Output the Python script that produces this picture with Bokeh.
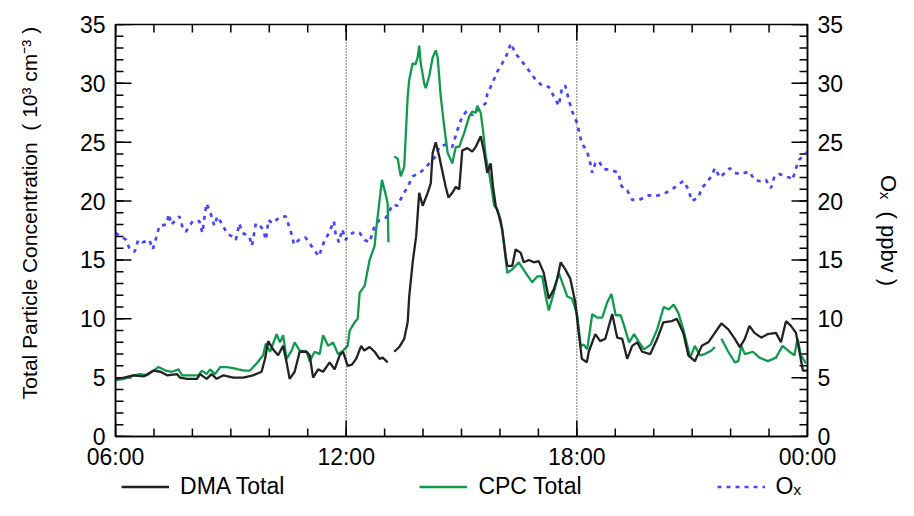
from bokeh.plotting import figure
from bokeh.layouts import column
from bokeh.models import Range1d, LinearAxis, FixedTicker, Span, Legend, LegendItem
from bokeh.embed import file_html
from bokeh.resources import INLINE

NaN = float("nan")

# ---------------- data (hours of day, 6 = 06:00, 24 = 00:00) ----------------
dma_time = [6.00, 6.22, 6.47, 6.73, 6.99, 7.17, 7.34, 7.60, 7.68, 7.86, 8.12, 8.20, 8.37, 8.50,
            8.63, 8.81, 9.06, 9.32, 9.58, 9.80, 9.89, 9.97, 10.10, 10.23, 10.36, 10.45, 10.53,
            10.66, 10.79, 10.97, 11.05, 11.14, 11.27, 11.40, 11.57, 11.70, 11.83, 11.92, 12.04,
            12.15, 12.26, 12.39, 12.47, 12.61, 12.74, 12.87, 12.95, 13.08, 13.16, 13.25, 13.38,
            13.51, 13.60, 13.64, 13.73, 13.82, 13.90, 13.99, 14.12, 14.20, 14.25, 14.33, 14.42,
            14.51, 14.59, 14.66, 14.76, 14.85, 14.94, 15.02, 15.15, 15.28, 15.37, 15.50, 15.59,
            15.67, 15.76, 15.82, 15.89, 15.97, 16.06, 16.15, 16.19, 16.32, 16.41, 16.54, 16.62,
            16.75, 16.88, 17.01, 17.14, 17.27, 17.40, 17.49, 17.58, 17.70, 17.83, 17.96, 18.04,
            18.13, 18.26, 18.31, 18.48, 18.61, 18.74, 18.92, 19.05, 19.18, 19.31, 19.44, 19.57,
            19.70, 19.91, 20.09, 20.25, 20.47, 20.60, 20.77, 20.90, 21.07, 21.25, 21.42, 21.59,
            21.76, 21.94, 22.11, 22.24, 22.37, 22.49, 22.62, 22.80, 22.97, 23.18, 23.31, 23.44,
            23.57, 23.70, 23.88, 24.00]
dma_total = [4.9, 5.0, 5.2, 5.1, 5.6, 5.5, 5.2, 5.3, 5.0, 4.9, 4.9, 5.3, 4.9, 5.3,
             4.9, 5.2, 5.0, 5.0, 5.2, 5.5, 6.6, 8.1, 7.4, 6.9, 7.7, 6.3, 4.9,
             5.5, 7.2, 7.2, 6.9, 5.0, 5.7, 5.5, 6.3, 5.7, 6.9, 7.2, 6.0,
             6.1, 6.6, 7.7, 7.3, 7.6, 7.2, 6.6, 6.7, 6.3, NaN, 7.2, 7.6,
             8.3, 9.7, 11.9, 14.8, 17.0, 20.7, 19.6, 20.7, 21.5, 24.1, 25.0, 23.8,
             22.4, 21.2, 20.3, 20.7, 21.2, 21.0, 24.3, 24.5, 24.2, 24.6, 25.5, 24.1,
             22.4, 23.2, 21.2, 19.6, 18.8, 17.6, 15.3, 14.5, 14.5, 15.9, 15.6, 14.8,
             15.0, 14.8, 14.9, 13.9, 11.7, 12.5, 13.4, 14.8, 14.2, 13.4, 11.4, 9.1,
             6.6, 6.3, 7.2, 8.7, 8.1, 8.3, 10.4, 8.4, 8.3, 6.6, 7.7, 8.0,
             7.2, 7.0, 8.3, 9.7, 9.8, 10.0, 8.8, 6.9, 6.4, 7.7, 8.0, 8.8,
             9.6, 9.1, 8.3, 7.6, 8.3, 9.4, 8.8, 8.4, 8.7, 8.8, 8.0, 9.8,
             9.4, 8.8, 5.6, 5.6]

cpc_time = [6.00, 6.22, 6.47, 6.65, 6.82, 6.99, 7.12, 7.30, 7.47, 7.64, 7.73, 7.95, 8.16, 8.25,
            8.37, 8.46, 8.59, 8.72, 8.89, 9.06, 9.19, 9.37, 9.50, 9.67, 9.84, 9.91, 10.02,
            10.19, 10.28, 10.36, 10.45, 10.58, 10.66, 10.79, 10.97, 11.05, 11.18, 11.31, 11.40,
            11.53, 11.66, 11.79, 11.92, 12.04, 12.09, 12.22, 12.30, 12.35, 12.48, 12.61, 12.74,
            12.78, 12.87, 12.93, 13.04, 13.08, 13.10, 13.17, 13.25, 13.34, 13.42, 13.51, 13.60,
            13.64, 13.73, 13.80, 13.86, 13.90, 13.94, 14.03, 14.07, 14.16, 14.25, 14.33, 14.38,
            14.46, 14.55, 14.64, 14.76, 14.85, 14.94, 15.07, 15.20, 15.28, 15.37, 15.41, 15.50,
            15.56, 15.63, 15.72, 15.80, 15.85, 15.93, 16.02, 16.11, 16.19, 16.32, 16.49, 16.67,
            16.84, 16.97, 17.10, 17.19, 17.27, 17.40, 17.53, 17.62, 17.75, 17.88, 18.01, 18.10,
            18.18, 18.27, 18.40, 18.53, 18.66, 18.79, 18.90, 19.01, 19.14, 19.23, 19.36, 19.49,
            19.62, 19.75, 19.92, 20.09, 20.26, 20.39, 20.52, 20.64, 20.77, 20.95, 21.07, 21.20,
            21.33, 21.50, 21.59, 21.67, 21.76, 21.94, 22.11, 22.20, 22.28, 22.37, 22.58, 22.75,
            22.97, 23.18, 23.35, 23.53, 23.66, 23.74, 23.83, 23.96]
cpc_total = [4.8, 4.9, 5.2, 5.3, 5.2, 5.6, 5.9, 5.6, 5.5, 5.7, 5.2, 5.2, 5.2, 5.6,
             5.3, 5.7, 5.3, 5.9, 5.9, 5.8, 5.7, 5.6, 5.6, 6.2, 6.9, 7.9, 7.2,
             8.7, 8.0, 8.6, 6.6, 7.3, 8.0, 7.3, 7.2, 6.4, 7.2, 7.0, 8.6,
             7.7, 8.0, 7.0, 7.3, 7.7, 9.0, 9.7, 10.0, 12.2, 12.8, 15.0, 16.2,
             17.6, 20.1, 21.8, 20.4, 19.8, 16.5, NaN, 23.8, 23.6, 22.1, 22.9, 28.9,
             30.3, 31.7, 31.6, 32.2, 33.2, 31.7, 30.0, 29.6, 30.6, 32.2, 32.8, 32.2,
             28.9, 26.3, 24.1, 23.2, 24.6, 24.6, 25.8, 27.2, 27.6, 27.5, 28.1, 27.5,
             26.0, 23.8, 22.4, 20.7, 19.6, 19.3, 18.4, 16.2, 13.9, 14.2, 14.8, 13.9,
             13.1, 13.6, 13.6, 11.9, 10.7, 12.2, 13.9, 13.1, 11.9, 11.7, 10.3, 7.7,
             7.8, 7.4, 10.4, 10.1, 10.1, 11.4, 12.1, 10.3, 10.3, 9.4, 8.0, 8.7,
             8.0, 7.4, 7.8, 9.1, 11.0, 10.8, 11.2, 10.5, 9.1, 6.7, 7.7, 6.9,
             7.0, 7.3, 7.6, NaN, 8.3, 7.2, 6.3, 6.4, 7.7, 7.0, 7.2, 6.7,
             6.4, 6.7, 7.7, 7.2, 6.9, 8.3, 6.9, 6.2]

ox_time = [6.00, 6.28, 6.37, 6.50, 6.59, 6.71, 6.88, 6.97, 7.06, 7.14, 7.32, 7.39, 7.45, 7.66,
           7.75, 7.83, 8.01, 8.18, 8.26, 8.33, 8.37, 8.48, 8.57, 8.65, 8.78, 8.91, 9.04,
           9.13, 9.22, 9.30, 9.48, 9.55, 9.65, 9.73, 9.84, 9.91, 9.98, 10.08, 10.26, 10.43,
           10.51, 10.60, 10.64, 10.77, 10.94, 11.16, 11.29, 11.42, 11.55, 11.68, 11.72, 11.81,
           11.90, 11.98, 12.11, 12.24, 12.35, 12.48, 12.61, 12.74, 12.87, 13.04, 13.21, 13.34,
           13.47, 13.60, 13.73, 13.90, 14.03, 14.16, 14.33, 14.42, 14.59, 14.76, 14.89, 15.02,
           15.15, 15.28, 15.41, 15.50, 15.63, 15.67, 15.80, 15.93, 16.06, 16.19, 16.28, 16.41,
           16.54, 16.75, 16.93, 17.10, 17.27, 17.40, 17.53, 17.62, 17.70, 17.79, 17.88, 18.01,
           18.13, 18.27, 18.35, 18.40, 18.48, 18.57, 18.70, 18.83, 19.09, 19.14, 19.23, 19.31,
           19.44, 19.62, 19.75, 19.88, 20.01, 20.14, 20.31, 20.52, 20.64, 20.77, 20.90, 20.99,
           21.16, 21.25, 21.33, 21.50, 21.59, 21.72, 21.98, 22.11, 22.24, 22.49, 22.62, 22.75,
           22.92, 23.05, 23.14, 23.27, 23.40, 23.53, 23.61, 23.70, 23.78, 23.87, 24.00]
ox_ppbv = [17.3, 16.7, 15.9, 15.7, 16.7, 16.5, 16.7, 15.9, 16.9, 17.9, 18.0, 18.9, 18.0, 18.7,
           17.7, 17.4, 18.3, 18.3, 17.3, 19.0, 19.8, 18.9, 17.9, 18.7, 18.0, 17.2, 17.0,
           16.7, 18.1, 17.3, 17.0, 16.2, 18.1, 18.0, 17.6, 16.7, 18.4, 18.1, 18.6, 18.7,
           17.9, 17.0, 16.3, 16.7, 16.9, 15.9, 15.3, 16.5, 17.3, 18.3, 17.3, 16.5,
           17.6, 16.7, 17.2, 17.4, 17.3, 16.7, 16.5, 17.9, 18.4, 18.6, 19.7, 19.6,
           20.5, 21.2, 22.1, 22.4, 22.7, 23.2, 23.8, 24.6, 24.8, 24.6, 26.0, 27.2,
           27.7, 27.3, 27.7, 28.0, 28.3, 29.1, 30.0, 31.0, 31.7, 32.5, 33.4, 32.5,
           32.0, 31.1, 30.3, 29.8, 29.7, 28.9, 28.1, 29.7, 29.8, 28.6, 27.6, 26.6,
           24.9, 24.2, 23.2, 22.4, 23.2, 23.4, 22.7, 22.7, 22.4, 21.4, 21.0, 20.9,
           20.1, 20.1, 20.3, 20.5, 20.4, 20.5, 20.7, 21.1, 21.4, 21.7, 21.0, 20.0,
           20.3, 21.1, 21.4, 22.1, 22.8, 22.0, 22.8, 22.4, 22.3, 22.5, 21.8, 21.7,
           21.8, 21.1, 22.1, 22.3, 22.1, 22.0, 21.8, 22.8, 23.5, 23.8, 24.2]

x_major_ticks = [6, 12, 18, 24]
x_minor_ticks = list(range(6, 25))
x_tick_labels = ["06:00", "12:00", "18:00", "00:00"]
y_major_ticks = [0, 5, 10, 15, 20, 25, 30, 35]
y_minor_ticks = list(range(0, 36))
x_start, x_end = 6, 24
y_start, y_end = 0, 35

FONT = "Liberation Sans"
MAJOR_LEN, MINOR_LEN = 16, 8
WIDTH = 904

p = figure(width=WIDTH, height=472, x_range=Range1d(x_start, x_end), y_range=Range1d(y_start, y_end),
           output_backend="svg", toolbar_location=None,
           min_border_left=115, min_border_right=94, min_border_top=24, min_border_bottom=34,
           x_axis_location=None, y_axis_location=None)
p.extra_y_ranges = {"ox": Range1d(y_start, y_end)}
p.xgrid.visible = False
p.ygrid.visible = False
p.outline_line_color = "black"
p.outline_line_width = 1.5
p.background_fill_color = "white"
p.border_fill_color = "white"

xticker = FixedTicker(ticks=x_major_ticks, minor_ticks=x_minor_ticks)
yticker = FixedTicker(ticks=y_major_ticks, minor_ticks=y_minor_ticks)


def style(ax):
    ax.major_tick_in = 0
    ax.major_tick_out = 0
    ax.minor_tick_in = 0
    ax.minor_tick_out = 0
    ax.axis_line_width = 1.5
    ax.axis_line_color = "black"
    ax.major_label_text_font = FONT
    ax.major_label_text_font_size = "23px"
    ax.major_label_text_color = "black"
    ax.axis_label_text_font = FONT
    ax.axis_label_text_font_style = "normal"
    ax.axis_label_text_color = "black"


xb = LinearAxis(ticker=xticker, major_label_overrides=dict(zip(x_major_ticks, x_tick_labels)))
style(xb)
xb.major_label_standoff = 7
p.add_layout(xb, "below")

yl = LinearAxis(ticker=yticker,
                axis_label="\u00a0" * 6 + "Total Particle Concentration\u00a0\u00a0( 10³ cm⁻³ )")
style(yl)
yl.major_label_standoff = 10
yl.axis_label_text_font_size = "21px"
yl.axis_label_standoff = 36
p.add_layout(yl, "left")

yr = LinearAxis(ticker=yticker, y_range_name="ox", axis_label="Oₓ\u00a0\u00a0( ppbv )")
style(yr)
yr.major_label_standoff = 10
yr.axis_label_text_font_size = "22px"
yr.axis_label_standoff = 30
p.add_layout(yr, "right")

# inward tick marks drawn from the tick lists
tick_kw = dict(line_color="black", line_width=1.5, length_units="screen", angle_units="deg")
p.ray(x=x_minor_ticks, y=y_start, length=MINOR_LEN, angle=90, **tick_kw)
p.ray(x=x_major_ticks, y=y_start, length=MAJOR_LEN, angle=90, **tick_kw)
p.ray(x=x_minor_ticks, y=y_end, length=MINOR_LEN, angle=-90, **tick_kw)
p.ray(x=x_major_ticks, y=y_end, length=MAJOR_LEN, angle=-90, **tick_kw)
p.ray(x=x_start, y=y_minor_ticks, length=MINOR_LEN, angle=0, **tick_kw)
p.ray(x=x_start, y=y_major_ticks, length=MAJOR_LEN, angle=0, **tick_kw)
p.ray(x=x_end, y=y_minor_ticks, length=MINOR_LEN, angle=180, y_range_name="ox", **tick_kw)
p.ray(x=x_end, y=y_major_ticks, length=MAJOR_LEN, angle=180, y_range_name="ox", **tick_kw)

for loc in (12, 18):
    p.add_layout(Span(location=loc, dimension="height", line_color="black",
                      line_width=1, line_dash="1 2"))

OX_STYLE = dict(line_color="#4646ff", line_width=2.7, line_dash="4 5")
CPC_STYLE = dict(line_color="#109a4c", line_width=2.3)
DMA_STYLE = dict(line_color="#222222", line_width=2.3)

p.line(ox_time, ox_ppbv, y_range_name="ox", **OX_STYLE)
p.line(cpc_time, cpc_total, **CPC_STYLE)
p.line(dma_time, dma_total, **DMA_STYLE)

# legend strip below the plot; its lines lie outside its (empty) view, only the
# legend samples show
lg = figure(width=WIDTH, height=28, x_range=Range1d(x_start, x_end), y_range=Range1d(-20, -19),
            output_backend="svg", toolbar_location=None, min_border=0,
            x_axis_location=None, y_axis_location=None)
lg.outline_line_color = None
lg.xgrid.visible = False
lg.ygrid.visible = False
lg.background_fill_color = "white"
lg.border_fill_color = "white"
l_dma = lg.line(dma_time, dma_total, **DMA_STYLE)
l_cpc = lg.line(cpc_time, cpc_total, **CPC_STYLE)
l_ox = lg.line(ox_time, ox_ppbv, **OX_STYLE)
legend = Legend(items=[LegendItem(label="DMA Total", renderers=[l_dma]),
                       LegendItem(label="CPC Total", renderers=[l_cpc]),
                       LegendItem(label="Oₓ", renderers=[l_ox])],
                location="center", orientation="horizontal",
                glyph_width=48, glyph_height=20, label_standoff=11, spacing=135,
                padding=0, margin=0, border_line_color=None, background_fill_alpha=0,
                label_text_font=FONT, label_text_font_size="23px", label_text_color="black")
lg.add_layout(legend)

layout = column(p, lg, spacing=0)
open("out.html", "w").write(file_html(layout, INLINE))
